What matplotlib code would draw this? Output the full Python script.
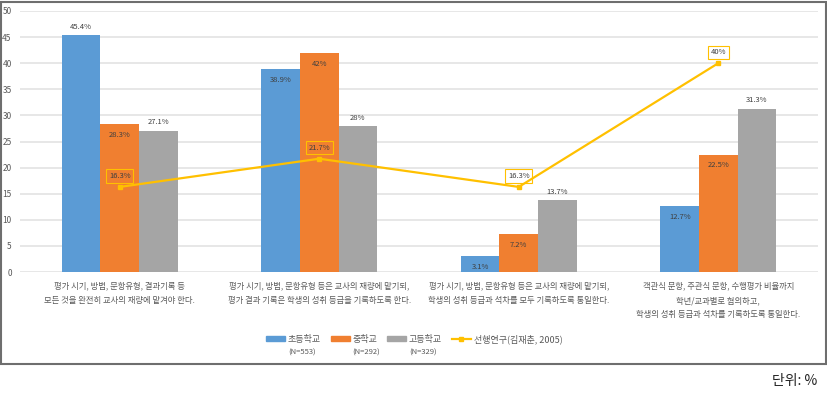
import matplotlib
matplotlib.use('Agg')
import matplotlib.pyplot as plt
from matplotlib.patches import Rectangle, Patch
from matplotlib.lines import Line2D
import numpy as np

plt.rcParams['font.family'] = ['Noto Sans CJK KR', 'DejaVu Sans']

# Data
categories = [
    '평가 시기, 방법, 문항유형, 결과기록 등\n모든 것을 완전히 교사의 재량에 맡겨야 한다.',
    '평가 시기, 방법, 문항유형 등은 교사의 재량에 맡기되,\n평가 결과 기록은 학생의 성취 등급을 기록하도록 한다.',
    '평가 시기, 방법, 문항유형 등은 교사의 재량에 맡기되,\n학생의 성취 등급과 석차를 모두 기록하도록 통일한다.',
    '객관식 문항, 주관식 문항, 수행평가 비율까지\n학년/교과별로 협의하고,\n학생의 성취 등급과 석차를 기록하도록 통일한다.',
]
elementary = [45.4, 38.9, 3.1, 12.7]
middle = [28.3, 42, 7.2, 22.5]
high = [27.1, 28, 13.7, 31.3]
prior_study = [16.3, 21.7, 16.3, 40]
series_names = ['초등학교', '중학교', '고등학교', '선행연구(김재춘, 2005)']
series_n = ['(N=553)', '(N=292)', '(N=329)']

# label placement per bar: True = above the bar, False = inside top
elem_out = [True, False, False, False]
mid_out = [False, False, False, False]
high_out = [True, True, True, True]

c_blue = '#5B9BD5'
c_orange = '#F07F30'
c_gray = '#A5A5A5'
c_gold = '#FFC000'
c_text = '#595959'

fig = plt.figure(figsize=(8.27, 3.93), dpi=100)
ax = fig.add_axes([20 / 827, 1 - 272 / 393, 798 / 827, 261 / 393])

x = np.arange(len(categories))
w = 0.193
for off, vals, col, outs in [(-w, elementary, c_blue, elem_out),
                             (0, middle, c_orange, mid_out),
                             (w, high, c_gray, high_out)]:
    bars = ax.bar(x + off, vals, width=w, color=col, zorder=2)
    for b, v, out in zip(bars, vals, outs):
        lab = '%g%%' % v
        cx = b.get_x() + b.get_width() / 2
        if out:
            ax.annotate(lab, (cx, v), xytext=(0, 3), textcoords='offset points',
                        ha='center', va='bottom', fontsize=5.5, color='#404040')
        else:
            ax.annotate(lab, (cx, v), xytext=(0, -5), textcoords='offset points',
                        ha='center', va='top', fontsize=5.5, color='#404040')

ax.plot(x, prior_study, color=c_gold, lw=1.6, marker='s', markersize=3.5, zorder=4)
for xi, v in zip(x, prior_study):
    ax.annotate('%g%%' % v, (xi, v), xytext=(0, 5), textcoords='offset points',
                ha='center', va='bottom', fontsize=5.5, color='#404040', zorder=5,
                bbox=dict(boxstyle='square,pad=0.35', fc='none', ec=c_gold, lw=0.8))

ax.set_xlim(-0.5, len(categories) - 0.5)
ax.set_ylim(0, 50)
ax.set_yticks(np.arange(0, 51, 5))
ax.set_xticks(x)
ax.set_xticklabels(categories, fontsize=6, color=c_text, linespacing=1.75)
ax.tick_params(axis='both', length=0, labelsize=6, colors=c_text)
ax.tick_params(axis='x', pad=7)
ax.tick_params(axis='y', pad=6)
ax.grid(axis='y', color='#E3E3E3', lw=1.2, zorder=0)
ax.set_axisbelow(True)
for s in ax.spines.values():
    s.set_visible(False)

handles = [Patch(color=c_blue), Patch(color=c_orange), Patch(color=c_gray),
           Line2D([], [], color=c_gold, lw=1.6, marker='s', markersize=3.5)]
leg = fig.legend(handles, series_names, loc='center', bbox_to_anchor=(0.501, 1 - 339 / 393),
                 ncol=4, frameon=False, fontsize=6.5, handlelength=2.1, handleheight=0.55,
                 columnspacing=1.1, handletextpad=0.3, labelcolor=c_text)

# N counts under the legend labels
fig.canvas.draw()
inv = fig.transFigure.inverted()
for t, n in zip(leg.get_texts()[:3], series_n):
    bb = t.get_window_extent()
    x0, y0 = inv.transform((bb.x0, bb.y0))
    fig.text(x0, y0 - 0.012, n, fontsize=5.5, color=c_text, ha='left', va='top')

# outer frame around the chart
fig.add_artist(Rectangle((1 / 827, 1 - 364 / 393), 825 / 827, 362 / 393,
                         transform=fig.transFigure, fill=False, ec='#6E6E6E', lw=1.5))

fig.text(817 / 827, 1 - 381 / 393, '단위: %', fontsize=10, ha='right', va='center', color='#222222')

fig.savefig('out.png', dpi=100)
